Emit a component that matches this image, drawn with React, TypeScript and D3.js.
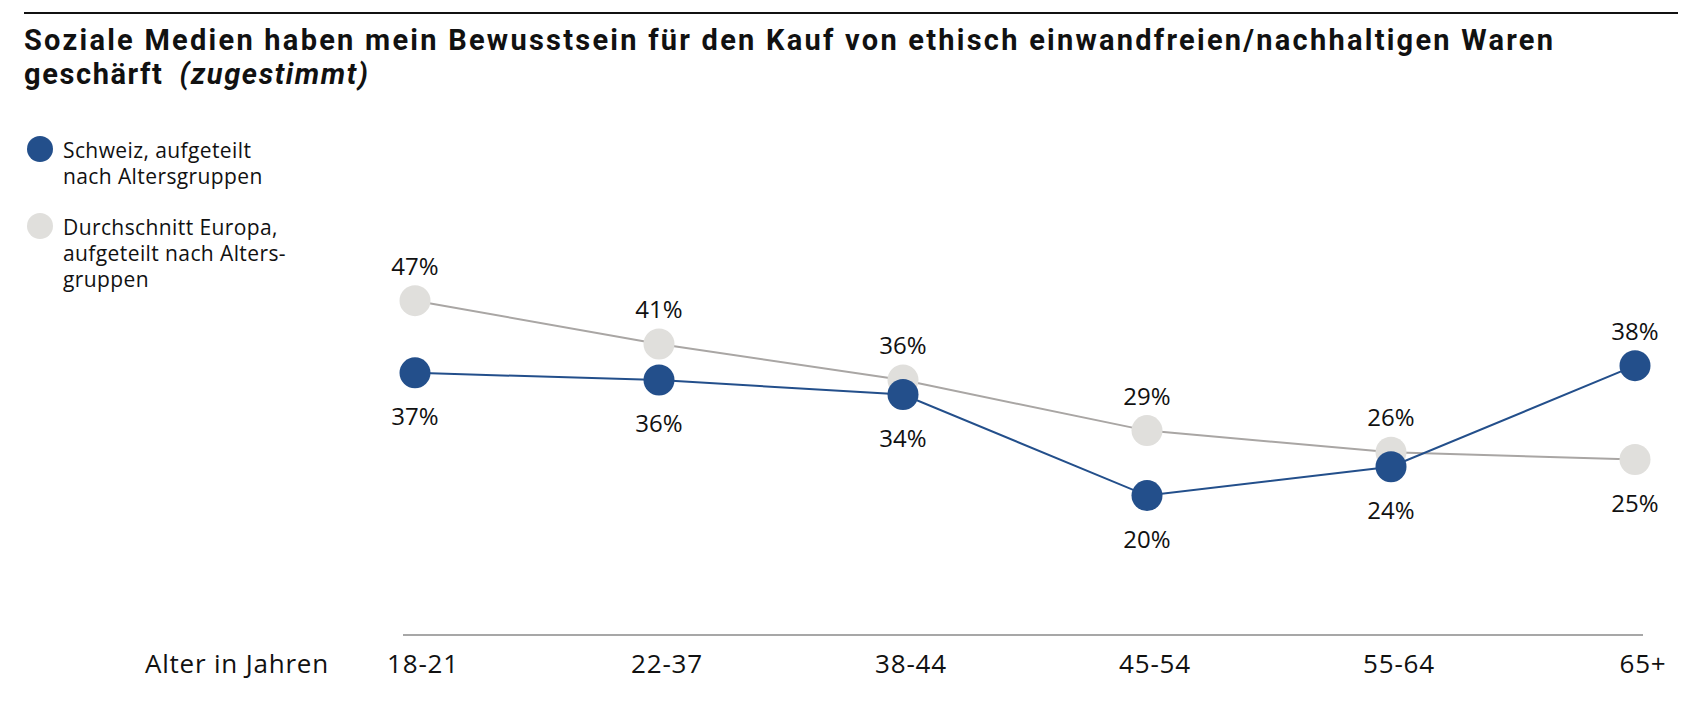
import { useEffect, useRef } from 'react'
import * as d3 from 'd3'

const ageGroups = ['18-21', '22-37', '38-44', '45-54', '55-64', '65+']
const schweiz = [37, 36, 34, 20, 24, 38]
const europa = [47, 41, 36, 29, 26, 25]
// which side the value label sits on for Schweiz (true = above)
const schweizAbove = [false, false, false, false, false, true]

const titleLines = [
  'Soziale Medien haben mein Bewusstsein für den Kauf von ethisch einwandfreien/nachhaltigen Waren',
  'geschärft',
]
const titleSuffix = '(zugestimmt)'
const legendSchweiz = ['Schweiz, aufgeteilt', 'nach Altersgruppen']
const legendEuropa = ['Durchschnitt Europa,', 'aufgeteilt nach Alters-', 'gruppen']
const axisTitle = 'Alter in Jahren'

const W = 1700
const H = 722
const BLUE = '#234f8b'
const GREY_DOT = '#e0dfdc'
const GREY_LINE = '#a9a6a4'
const FONT = '"Open Sans", "Noto Sans", sans-serif'
const TITLE_FONT = 'Roboto, "Open Sans", sans-serif'

export default function App() {
  const svgRef = useRef<SVGSVGElement>(null)

  useEffect(() => {
    if (!svgRef.current) return
    const svg = d3.select(svgRef.current)
    svg.selectAll('*').remove()

    const x = d3.scalePoint<string>().domain(ageGroups).range([415, 1635])
    const y = d3.scaleLinear().domain([0, 50]).range([640, 279])

    // top rule
    svg.append('line')
      .attr('x1', 24).attr('x2', 1678).attr('y1', 13).attr('y2', 13)
      .attr('stroke', '#111').attr('stroke-width', 2)

    // title
    const title = svg.append('g').attr('font-family', TITLE_FONT).attr('fill', '#111')
    title.append('text').attr('x', 24).attr('y', 50)
      .attr('font-size', 29).attr('font-weight', 'bold')
      .attr('textLength', 1529).attr('lengthAdjust', 'spacing')
      .text(titleLines[0])
    const t2 = title.append('text').attr('x', 24).attr('y', 84)
      .attr('font-size', 29).attr('font-weight', 'bold').attr('letter-spacing', 1.6)
    t2.append('tspan').text(titleLines[1])
    t2.append('tspan').attr('dx', 16).attr('font-style', 'italic').text(titleSuffix)

    // legend
    const legend = svg.append('g').attr('font-family', FONT).attr('font-size', 21)
      .attr('letter-spacing', 0.4).attr('fill', '#111')
    legend.append('circle').attr('cx', 40).attr('cy', 149).attr('r', 13).attr('fill', BLUE)
    legendSchweiz.forEach((l, i) => {
      legend.append('text').attr('x', 63).attr('y', 158 + i * 26).text(l)
    })
    legend.append('circle').attr('cx', 40).attr('cy', 226).attr('r', 13).attr('fill', GREY_DOT)
    legendEuropa.forEach((l, i) => {
      legend.append('text').attr('x', 63).attr('y', 235 + i * 26).text(l)
    })

    // x axis
    svg.append('line')
      .attr('x1', 403).attr('x2', 1643).attr('y1', 635).attr('y2', 635)
      .attr('stroke', '#8a8a8a').attr('stroke-width', 1.5)
    const axisG = svg.append('g').attr('font-family', FONT).attr('font-size', 26)
      .attr('letter-spacing', 0.8).attr('fill', '#111')
    axisG.selectAll('text.tick')
      .data(ageGroups)
      .join('text')
      .attr('class', 'tick')
      .attr('x', d => x(d)! + 8)
      .attr('y', 673)
      .attr('text-anchor', 'middle')
      .text(d => d)
    axisG.append('text').attr('x', 329).attr('y', 673).attr('text-anchor', 'end').text(axisTitle)

    const line = d3.line<number>()
      .x((_, i) => x(ageGroups[i])!)
      .y(d => y(d))

    const drawSeries = (vals: number[], dot: string, stroke: string, above: boolean[]) => {
      const g = svg.append('g')
      g.append('path').datum(vals).attr('d', line)
        .attr('fill', 'none').attr('stroke', stroke).attr('stroke-width', 2)
      g.selectAll('circle')
        .data(vals)
        .join('circle')
        .attr('cx', (_, i) => x(ageGroups[i])!)
        .attr('cy', d => y(d))
        .attr('r', 15.5)
        .attr('fill', dot)
      g.selectAll('text')
        .data(vals)
        .join('text')
        .attr('x', (_, i) => x(ageGroups[i])!)
        .attr('y', (d, i) => above[i] ? y(d) - 26 : y(d) + 52)
        .attr('text-anchor', 'middle')
        .attr('font-family', FONT)
        .attr('font-size', 24)
        .attr('fill', '#111')
        .text(d => `${d}%`)
    }

    drawSeries(europa, GREY_DOT, GREY_LINE, schweizAbove.map(a => !a))
    drawSeries(schweiz, BLUE, BLUE, schweizAbove)
  }, [])

  return (
    <div style={{ position: 'absolute', left: 0, top: 0, background: '#fff' }}>
      <svg ref={svgRef} width={W} height={H} style={{ display: 'block' }} />
    </div>
  )
}
